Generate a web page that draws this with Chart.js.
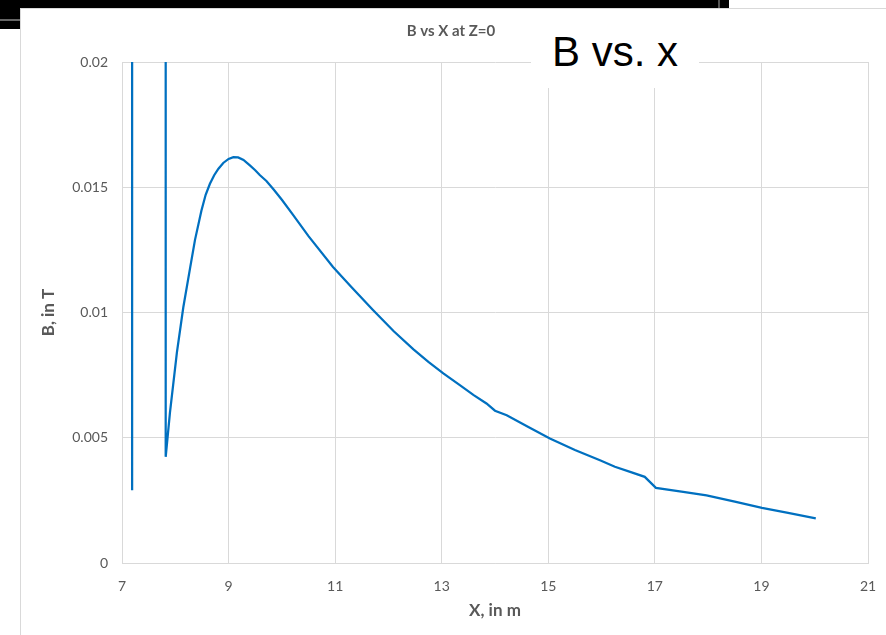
<!DOCTYPE html>
<html>
<head>
<meta charset="utf-8">
<script src="https://cdn.jsdelivr.net/npm/chart.js@4"></script>
<style>
  body { margin: 0; width: 886px; height: 635px; background: #fff; position: relative; overflow: hidden; }
  .blk { position: absolute; background: #000; }
  #card { position: absolute; left: 20px; top: 8px; width: 866px; height: 627px;
          border-left: 1px solid #d9d9d9; border-top: 1px solid #d9d9d9; background: #fff; }
  #wrap { position: absolute; left: 21px; top: 9px; width: 865px; height: 626px; }
  #big { position: absolute; left: 531px; top: 20px; width: 168px; height: 68px; background: #fff;
         font-family: "Liberation Sans", Arial, sans-serif; font-size: 42px; color: #000;
         text-align: center; line-height: 64px; }
</style>
</head>
<body>
<!-- bits of the screenshot frame -->
<div class="blk" style="left:0;top:0;width:729px;height:8px"></div>
<div class="blk" style="left:0;top:0;width:20px;height:29px"></div>
<div style="position:absolute;left:0;top:19px;width:20px;height:2px;background:#666"></div>
<div style="position:absolute;left:718px;top:0;width:2px;height:8px;background:#555"></div>
<div id="card"></div>
<div id="wrap"><canvas id="bChart"></canvas></div>
<div id="big">B vs. x</div>

<script>
// X in m, B in T (the spikes run far above 0.02)
const xValues = [7.19, 7.19, 7.82, 7.82, 7.9, 8.03, 8.15, 8.28, 8.37, 8.49, 8.57, 8.65, 8.73, 8.81,
  8.9, 9.0, 9.09, 9.18, 9.28, 9.4, 9.5, 9.59, 9.71, 9.85, 10.0, 10.21, 10.5, 10.96, 11.3, 11.71,
  12.1, 12.47, 12.75, 13.03, 13.34, 13.6, 13.84, 14.0, 14.22, 14.6, 15.03, 15.5, 15.97, 16.25,
  16.55, 16.81, 17.02, 17.5, 17.97, 18.5, 19.01, 19.5, 20.02];
const bValues = [0.0029, 0.05, 0.05, 0.00424, 0.006, 0.0084, 0.0102, 0.0118, 0.0129, 0.01406, 0.0147,
  0.01514, 0.01548, 0.01574, 0.01597, 0.01613, 0.0162, 0.01619, 0.01609, 0.01587, 0.01568, 0.01548,
  0.01525, 0.0149, 0.0145, 0.0139, 0.01305, 0.01182, 0.01103, 0.0101, 0.00925, 0.00853, 0.00803,
  0.00757, 0.0071, 0.0067, 0.00637, 0.00608, 0.0059, 0.00546, 0.00497, 0.00451, 0.0041, 0.00384,
  0.00363, 0.00344, 0.003, 0.00285, 0.0027, 0.00245, 0.0022, 0.002, 0.00178];
const xTicks = [7, 9, 11, 13, 15, 17, 19, 21];
const yTicks = ["0", "0.005", "0.01", "0.015", "0.02"];

const points = xValues.map((x, i) => ({ x: x, y: bValues[i] }));
const grey = "#595959";
const gridCol = "#d9d9d9";
const fam = "Lato, 'Open Sans', sans-serif";

const ctx = document.getElementById("bChart").getContext("2d");
new Chart(ctx, {
  type: "scatter",
  data: {
    datasets: [{
      data: points,
      showLine: true,
      borderColor: "#0070C0",
      borderWidth: 2.25,
      pointRadius: 0,
      tension: 0,
    }],
  },
  options: {
    responsive: true,
    maintainAspectRatio: false,
    animation: false,
    layout: { padding: { left: 13, right: 18, top: 5, bottom: 10 } },
    scales: {
      x: {
        type: "linear",
        min: 7,
        max: 21,
        afterBuildTicks: (s) => { s.ticks = xTicks.map((v) => ({ value: v })); },
        afterFit: (s) => { s.height = 62; s.paddingLeft = 0; s.paddingRight = 0; },
        ticks: { color: grey, padding: 15, font: { family: fam, size: 14 } },
        grid: { color: gridCol, lineWidth: 1, drawTicks: false },
        border: { color: gridCol },
        title: { display: true, text: "X, in m", color: grey, font: { family: fam, size: 17, weight: "bold" } },
      },
      y: {
        min: 0,
        max: 0.02,
        afterBuildTicks: (s) => { s.ticks = yTicks.map((t) => ({ value: Number(t) })); },
        afterFit: (s) => { s.width = 88; },
        ticks: {
          color: grey, padding: 14, font: { family: fam, size: 14 },
          callback: (v) => yTicks[Math.round(v / 0.005)],
        },
        grid: { color: gridCol, lineWidth: 1, drawTicks: false },
        border: { color: gridCol },
        title: { display: true, text: "B, in T", color: grey, font: { family: fam, size: 17, weight: "bold" } },
      },
    },
    plugins: {
      legend: { display: false },
      tooltip: { enabled: false },
      title: {
        display: true,
        text: "B vs X at Z=0",
        color: grey,
        font: { family: fam, size: 15, weight: "bold" },
        padding: { top: 8, bottom: 22 },
      },
    },
  },
});
</script>
</body>
</html>
